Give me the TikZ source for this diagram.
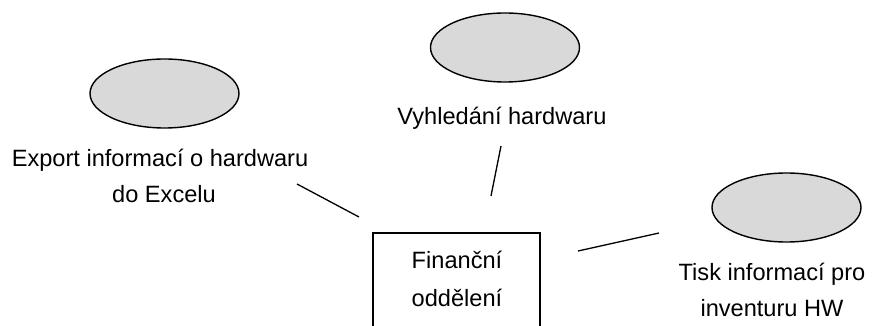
\documentclass[tikz,border=0pt]{standalone}
\usepackage{fontspec}
\setmainfont{Liberation Sans}
\usetikzlibrary{shapes.geometric}
\definecolor{usecasefill}{HTML}{D9D9D9}
\begin{document}
\begin{tikzpicture}[x=1pt,y=-1pt,
  usecase/.style={ellipse,draw=black,line width=1.4pt,fill=usecasefill,
    minimum width=149pt,minimum height=69pt,inner sep=0pt},
  label text/.style={font=\fontsize{23.6}{36}\selectfont,align=center,
    anchor=base,inner sep=0pt},
  actorbox/.style={draw=black,line width=1.2pt},
  link/.style={draw=black,line width=1.3pt}]
  \useasboundingbox (0,0) rectangle (884,326);
  \clip (0,0) rectangle (884,326);

  % use cases
  \node[usecase] (uc1) at (164.5,93.5) {};
  \node[usecase] (uc2) at (505,47.5) {};
  \node[usecase] (uc3) at (786.5,207.5) {};

  % use case captions
  \node[label text] (t1a) at (160,167) {Export informací o hardwaru};
  \node[label text] (t1b) at (164,202) {do Excelu};
  \node[label text] (t2) at (502,125) {Vyhledání hardwaru};
  \node[label text] (t3a) at (772,280) {Tisk informací pro};
  \node[label text] (t3b) at (772,316) {inventuru HW};

  % actor box (runs past the lower edge)
  \draw[actorbox] (540,345) -- (540,233) -- (373,233) -- (373,345);
  \node[label text] (actor1) at (457,268) {Finanční};
  \node[label text] (actor2) at (457,306) {oddělení};

  % association lines
  \coordinate (a1) at (297,184);
  \coordinate (b1) at (359,217);
  \coordinate (a2) at (501,146);
  \coordinate (b2) at (491,196);
  \coordinate (a3) at (659,233);
  \coordinate (b3) at (578,251);
  \draw[link] (a1) -- (b1);
  \draw[link] (a2) -- (b2);
  \draw[link] (a3) -- (b3);
\end{tikzpicture}
\end{document}
